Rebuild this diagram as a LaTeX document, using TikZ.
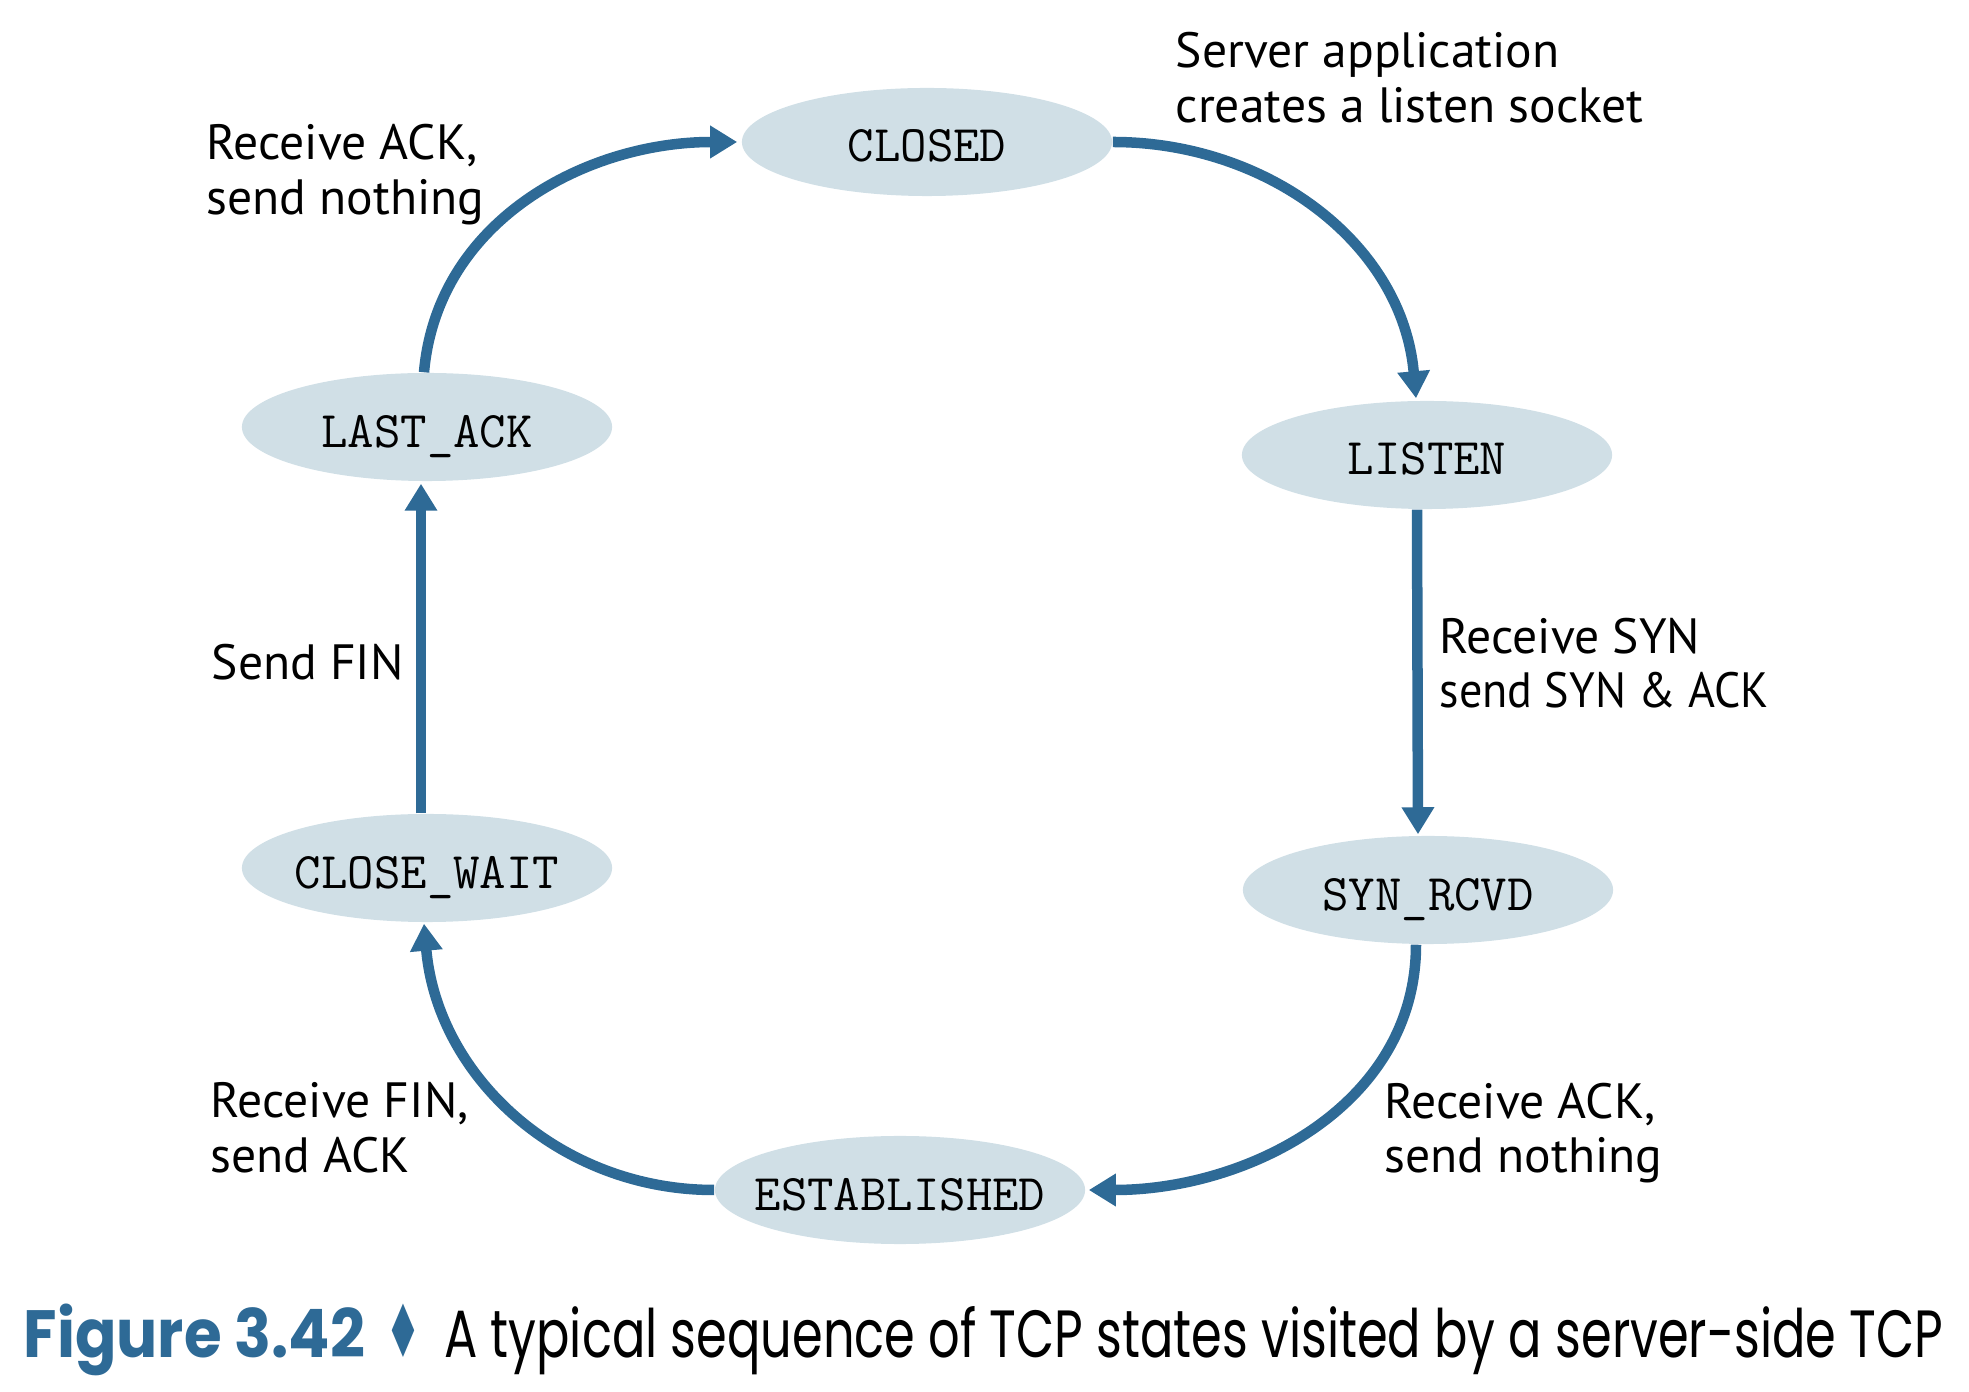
\documentclass[tikz,border=0pt]{standalone}
\usepackage{fontspec}
\setmainfont{PT Sans}
\newfontfamily\capf{Poppins}
\newfontfamily\symf{DejaVu Sans}
\usetikzlibrary{shapes.geometric,arrows.meta}
\definecolor{arrowblue}{HTML}{2E6A96}
\definecolor{statefill}{HTML}{D0DFE6}
\tikzset{
  state/.style={ellipse, fill=statefill, minimum width=3.7cm, minimum height=1.08cm, inner sep=0pt, font=\ttfamily\fontsize{14.6}{16}\selectfont},
  trans/.style={draw=arrowblue, line width=0.105cm, -{Triangle[length=0.27cm,width=0.31cm]}},
  lbl/.style={anchor=north west, align=left, inner sep=0pt, font=\fontsize{14.1}{15.5}\selectfont}
}
\newcommand{\stxt}[1]{\smash{\raisebox{-0.2cm}{\makebox[0pt]{#1}}}}
\begin{document}
\begin{tikzpicture}[x=0.01cm,y=-0.01cm]
\useasboundingbox (0,0) rectangle (1969,1392);
\node[state] (closed) at (927,142) {\stxt{CLOSED}};
\node[state] (listen) at (1427,455) {\stxt{LISTEN}};
\node[state] (synrcvd) at (1428,890) {\stxt{SYN\_RCVD}};
\node[state] (est) at (900,1190) {\stxt{ESTABLISHED}};
\node[state] (cwait) at (427,868) {\stxt{CLOSE\_WAIT}};
\node[state] (lack) at (427,427) {\stxt{LAST\_ACK}};

\draw[trans] (closed.east) to[out=0,in=95] ([xshift=-0.11cm,yshift=0.02cm]listen.north);
\draw[trans] ([xshift=-0.1cm]listen.south) -- ([xshift=-0.1cm,yshift=0.01cm]synrcvd.north);
\draw[trans] ([xshift=-0.12cm]synrcvd.south) to[out=-90,in=0] ([xshift=0.03cm]est.east);
\draw[trans] (est.west) to[out=180,in=-85] ([xshift=-0.03cm,yshift=-0.01cm]cwait.south);
\draw[trans] ([xshift=-0.06cm]cwait.north) -- ([xshift=-0.06cm,yshift=-0.02cm]lack.south);
\draw[trans] ([xshift=-0.03cm]lack.north) to[out=85,in=180] ([xshift=-0.04cm]closed.west);

\node[lbl] (l1) at (1175,32) {Server application\\creates a listen socket};
\node[lbl] (l2) at (206,124) {Receive ACK,\\send nothing};
\node[lbl] (l3) at (1439,617) {Receive SYN\\\scalebox{0.93}[1]{send SYN \& ACK}};
\node[lbl] (l4) at (211,643) {Send FIN};
\node[lbl] (l5) at (210,1082) {Receive FIN,\\send ACK};
\node[lbl] (l6) at (1384,1082) {Receive ACK,\\send nothing};

\node[anchor=west, inner sep=0pt, font=\capf\fontsize{19}{22}\selectfont] (cap) at (23,1340)
  {\scalebox{0.915}[1]{\textcolor{arrowblue}{\bfseries Figure 3.42}}\hspace{0.2cm}\textcolor{arrowblue}{\symf\scalebox{0.6}[1.1]{♦}}\hspace{0.23cm}\scalebox{0.74}[1]{A typical sequence of TCP states visited by a server-side TCP}};
\end{tikzpicture}
\end{document}
